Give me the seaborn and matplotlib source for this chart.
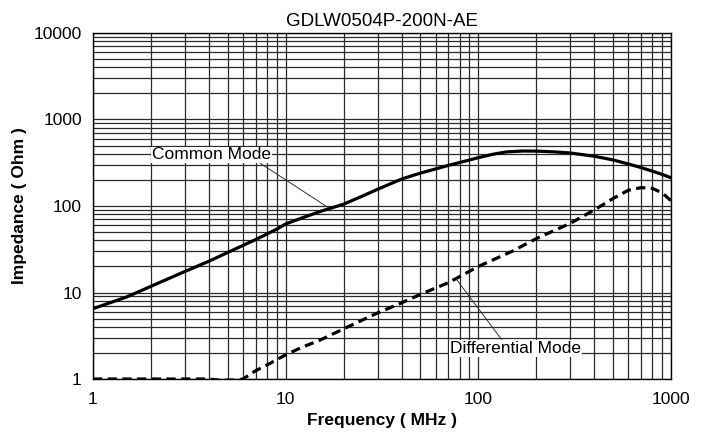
import numpy as np
import pandas as pd
import matplotlib
matplotlib.use('Agg')
import matplotlib.pyplot as plt
import matplotlib.ticker as mticker
import seaborn as sns

# Impedance vs frequency
cm_freq = [1, 1.5, 2, 3, 4, 5, 6, 7, 8, 9, 10, 12, 15, 20, 25, 30, 40, 50, 60, 70, 80,
           100, 120, 140, 170, 200, 250, 300, 400, 500, 600, 700, 800, 900, 1000]
cm_imp = [6.5, 8.9, 11.8, 17.5, 23, 29, 35, 41, 47.5, 54, 62, 72, 86, 105, 130, 156, 205, 240, 268, 295, 318,
          362, 398, 422, 432, 431, 422, 410, 376, 341, 306, 278, 253, 232, 212]

dm_freq = [1, 2, 3, 4, 4.5, 5, 5.5, 6, 6.5, 7, 8, 9, 10, 12, 15, 20, 25, 30, 40, 50, 70,
           100, 150, 200, 300, 400, 500, 600, 700, 800, 900, 1000]
dm_imp = [1, 1, 1, 1, 0.97, 0.97, 0.97, 1.0, 1.12, 1.25, 1.45, 1.68, 1.9, 2.3, 2.8, 3.8, 4.8, 5.8, 7.6, 9.5, 13,
          20, 30, 42, 63, 90, 122, 152, 163, 160, 142, 115]

x_ticks = [1, 10, 100, 1000]
y_ticks = [1, 10, 100, 1000, 10000]

title = 'GDLW0504P-200N-AE'

sns.set_style('white')
plt.rcParams['font.family'] = ['Liberation Sans', 'DejaVu Sans']
plt.rcParams['text.color'] = 'black'
plt.rcParams['axes.labelcolor'] = 'black'

cm = pd.DataFrame({'freq': cm_freq, 'imp': cm_imp})
dm = pd.DataFrame({'freq': dm_freq, 'imp': dm_imp})

fig = plt.figure(figsize=(7.06, 4.33), dpi=100)
ax = fig.add_axes([0.1317, 0.1247, 0.8187, 0.7991])
ax.set_xscale('log')
ax.set_yscale('log')

sns.lineplot(data=cm, x='freq', y='imp', ax=ax, color='black', lw=2.3, zorder=3)
sns.lineplot(data=dm, x='freq', y='imp', ax=ax, color='black', lw=2.3, zorder=3)
ax.lines[-1].set_dashes((2.9, 1.7))

ax.set_xlim(1, 1000)
ax.set_ylim(1, 10000)

ax.xaxis.set_major_locator(mticker.FixedLocator(x_ticks))
ax.yaxis.set_major_locator(mticker.FixedLocator(y_ticks))
ax.xaxis.set_minor_locator(mticker.LogLocator(base=10, subs=np.arange(2, 10)))
ax.yaxis.set_minor_locator(mticker.LogLocator(base=10, subs=np.arange(2, 10)))
fmt = mticker.FuncFormatter(lambda v, p: f'{v:g}')
ax.xaxis.set_major_formatter(fmt)
ax.yaxis.set_major_formatter(fmt)
ax.xaxis.set_minor_formatter(mticker.NullFormatter())
ax.yaxis.set_minor_formatter(mticker.NullFormatter())

ax.grid(True, which='both', color='#2a2a2a', lw=0.9)
ax.set_axisbelow(True)
ax.tick_params(which='both', length=0, labelsize=12.5, colors='black')
ax.tick_params(axis='x', pad=9)
ax.tick_params(axis='y', pad=8)
for s in ax.spines.values():
    s.set_color('black')
    s.set_linewidth(1.0)

ax.set_title(title, fontsize=13.5, pad=5, color='black')
ax.set_xlabel('Frequency ( MHz )', fontsize=12.5, fontweight='bold', color='black')
ax.set_ylabel('Impedance ( Ohm )', fontsize=12.5, fontweight='bold', color='black')
ax.xaxis.set_label_coords(0.5, -0.097)
ax.yaxis.set_label_coords(-0.114, 0.5)

# callouts with leader lines
ax.annotate('Common Mode', xy=(16.5, 97), xytext=(2.02, 390),
            fontsize=12.5, va='center', ha='left', zorder=4, color='black',
            bbox=dict(boxstyle='square,pad=0.05', fc='white', ec='none'),
            arrowprops=dict(arrowstyle='-', lw=0.7, color='#333333',
                            relpos=(0.89, 0.05), shrinkA=0, shrinkB=0))
ax.annotate('Differential Mode', xy=(77, 14.2), xytext=(71.6, 2.25),
            fontsize=12.5, va='center', ha='left', zorder=4, color='black',
            bbox=dict(boxstyle='square,pad=0.05', fc='white', ec='none'),
            arrowprops=dict(arrowstyle='-', lw=0.7, color='#333333',
                            relpos=(0.4, 1.0), shrinkA=0, shrinkB=0))

plt.savefig('out.png', dpi=100)
plt.close()
